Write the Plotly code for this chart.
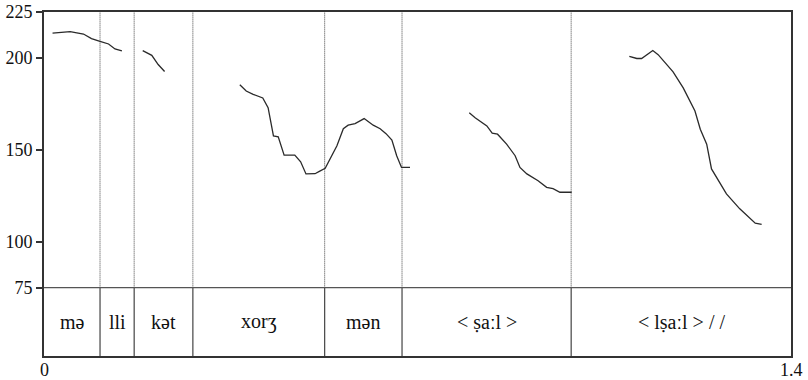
import plotly.graph_objects as go

# Segment boundaries (s) and labels
boundaries = [0.0, 0.105, 0.169, 0.279, 0.526, 0.671, 0.988, 1.4]
labels = ["mə", "lli", "kət", "xorʒ", "mən", "< ṣaːl >", "< lṣaːl > / /"]

# Pitch contours (time s, F0 Hz)
t1 = [0.016, 0.049, 0.074, 0.089, 0.105, 0.121, 0.133, 0.146]
f1 = [213.5, 214.3, 213.0, 210.5, 209.0, 207.6, 204.9, 203.8]

t2 = [0.185, 0.202, 0.214, 0.226]
f2 = [204.0, 201.4, 196.4, 192.6]

t3 = [0.367, 0.379, 0.392, 0.405, 0.410, 0.420, 0.430, 0.439, 0.450, 0.470, 0.481,
      0.491, 0.508, 0.516, 0.527, 0.549, 0.561, 0.570, 0.583, 0.600, 0.617, 0.630,
      0.641, 0.652, 0.661, 0.670, 0.686]
f3 = [185.4, 182.0, 180.2, 178.7, 178.2, 172.9, 157.6, 157.1, 147.1, 147.1, 143.5,
      136.9, 137.0, 138.3, 139.9, 152.2, 161.5, 163.4, 164.3, 167.0, 163.4, 161.5,
      158.8, 155.3, 146.8, 140.4, 140.4]

t4 = [0.797, 0.808, 0.830, 0.840, 0.850, 0.867, 0.883, 0.892, 0.905, 0.926, 0.942,
      0.954, 0.967, 0.989]
f4 = [170.2, 167.5, 163.0, 159.1, 158.5, 153.1, 146.8, 140.4, 136.9, 133.2, 129.6,
      128.9, 126.9, 126.9]

t5 = [1.097, 1.111, 1.120, 1.141, 1.151, 1.179, 1.198, 1.220, 1.230, 1.242, 1.251,
      1.279, 1.304, 1.333, 1.345]
f5 = [200.9, 199.7, 199.7, 204.0, 201.8, 192.4, 183.7, 171.1, 161.2, 153.1, 139.6,
      126.0, 117.9, 110.1, 109.4]

y_ticks = [75, 100, 150, 200, 225]
x_ticks = [0, 1.4]
x_ticktext = ["0", "1.4"]
y_min, y_tier, y_max = 37.8, 75, 225

FONT = "Liberation Serif"
LINE = "#2a2a2a"

fig = go.Figure()
for t, f in [(t1, f1), (t2, f2), (t3, f3), (t4, f4), (t5, f5)]:
    fig.add_trace(go.Scatter(x=t, y=f, mode="lines",
                             line=dict(color=LINE, width=1.3), showlegend=False,
                             hoverinfo="skip"))

shapes = []
for b in boundaries[1:-1]:
    shapes.append(dict(type="line", xref="x", yref="y", x0=b, x1=b, y0=y_tier, y1=y_max,
                       line=dict(color="#444", width=1, dash="1px,1px"), layer="below"))
    shapes.append(dict(type="line", xref="x", yref="y", x0=b, x1=b, y0=y_min, y1=y_tier,
                       line=dict(color="#444", width=1.2)))
shapes.append(dict(type="line", xref="x", yref="y", x0=0, x1=1.4, y0=y_tier, y1=y_tier,
                   line=dict(color="#555", width=1.2)))

annotations = []
for i, lab in enumerate(labels):
    xc = (boundaries[i] + boundaries[i + 1]) / 2
    annotations.append(dict(x=xc, y=(y_min + y_tier) / 2, xref="x", yref="y", text=lab,
                            showarrow=False,
                            font=dict(family=FONT, size=20, color="#111"),
                            xanchor="center", yanchor="middle"))
# x-axis tick labels (placed slightly closer to the axis than Plotly's default)
for xv, xt in zip(x_ticks, x_ticktext):
    annotations.append(dict(x=xv, y=0, xref="x", yref="paper", text=xt, showarrow=False,
                            xanchor="center", yanchor="top", yshift=-2,
                            font=dict(family=FONT, size=18, color="#111")))

fig.update_layout(
    width=808, height=380,
    margin=dict(l=44, r=17, t=12, b=24, autoexpand=False),
    plot_bgcolor="white", paper_bgcolor="white",
    font=dict(family=FONT, color="#111"),
    shapes=shapes, annotations=annotations,
    xaxis=dict(range=[0, 1.4], tickvals=x_ticks, showticklabels=False, ticks="",
               showgrid=False, zeroline=False, showline=True, mirror=True,
               linecolor="#333", linewidth=2, automargin=False),
    yaxis=dict(range=[y_min, y_max], tickvals=y_ticks,
               ticks="outside", ticklen=6, tickwidth=1.5, tickcolor="#333",
               showgrid=False, zeroline=False, showline=True, mirror=True,
               linecolor="#333", linewidth=2, automargin=False,
               tickfont=dict(family=FONT, size=18, color="#111")),
)

fig.write_html("out.html", config={"displayModeBar": False},
               post_script="document.body.style.margin='0';")
